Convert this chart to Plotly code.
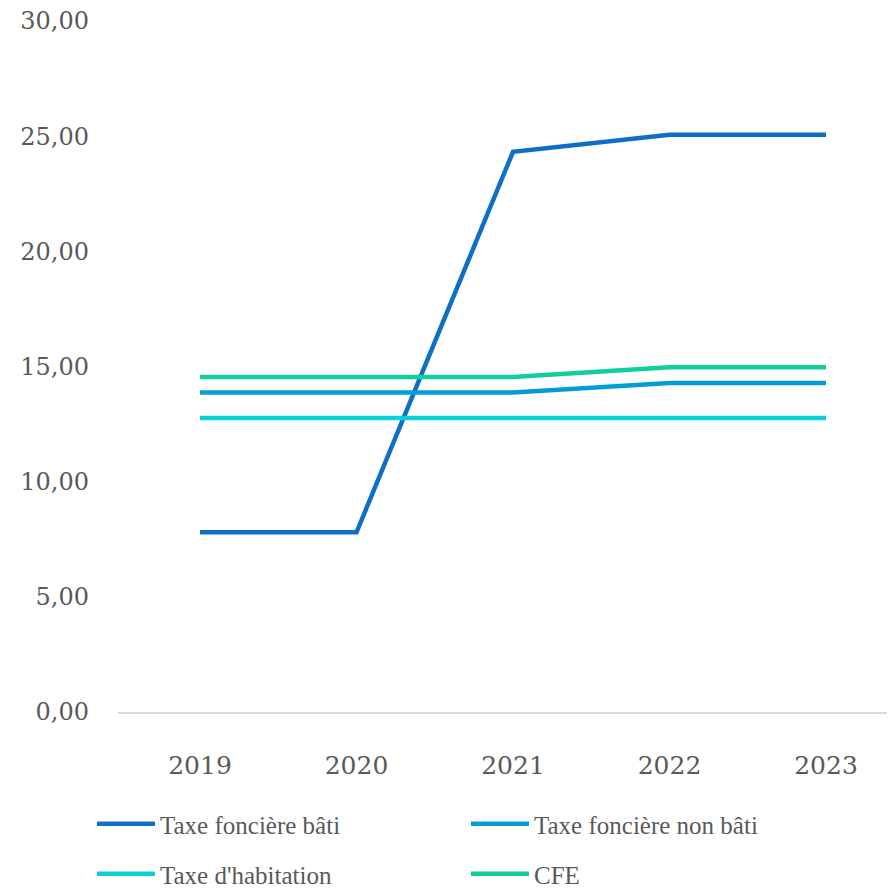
import plotly.graph_objects as go

years = ["2019", "2020", "2021", "2022", "2023"]
tfb = [7.80, 7.80, 24.32, 25.06, 25.06]
tfnb = [13.87, 13.87, 13.87, 14.28, 14.28]
th = [12.76, 12.76, 12.76, 12.76, 12.76]
cfe = [14.54, 14.54, 14.54, 14.97, 14.97]
names = ["Taxe foncière bâti", "Taxe foncière non bâti", "Taxe d'habitation", "CFE"]
colors = ["#0F6FC6", "#009DD9", "#0BD0D9", "#10CF9B"]
legend_ids = ["legend", "legend", "legend2", "legend2"]

W, H = 887, 884

fig = go.Figure()
for vals, name, col, lg in zip([tfb, tfnb, th, cfe], names, colors, legend_ids):
    fig.add_trace(go.Scatter(
        x=years, y=vals, name=name, mode="lines",
        line=dict(color=col, width=4.5),
        legend=lg,
    ))

legend_common = dict(
    orientation="h",
    xref="container", yref="container",
    xanchor="left", yanchor="middle",
    font=dict(family="Liberation Serif", size=25, color="#595959"),
    itemwidth=58,
    entrywidth=301, entrywidthmode="pixels",
    bgcolor="rgba(0,0,0,0)",
    traceorder="normal",
)

fig.update_layout(
    width=W, height=H,
    margin=dict(l=110, r=0, t=13, b=180, autoexpand=False),
    paper_bgcolor="white", plot_bgcolor="white",
    separators=", ",
    showlegend=True,
    legend=dict(x=84 / W, y=1 - 816 / H, **legend_common),
    legend2=dict(x=84 / W, y=1 - 866 / H, **legend_common),
    xaxis=dict(
        type="category", range=[-0.524, 4.441],
        showgrid=False, zeroline=False,
        showline=True, linecolor="#D9D9D9", linewidth=1.5,
        ticks="", ticklabelstandoff=30,
        tickfont=dict(family="DejaVu Serif", size=25, color="#595959"),
    ),
    yaxis=dict(
        range=[0, 30], tickvals=[0, 5, 10, 15, 20, 25, 30], tickformat=".2f",
        showgrid=False, zeroline=False, showline=False,
        ticks="", ticklabelstandoff=28, ticklabeloverflow="allow",
        tickfont=dict(family="DejaVu Serif", size=24, color="#595959"),
    ),
)

fig.write_html("out.html")
